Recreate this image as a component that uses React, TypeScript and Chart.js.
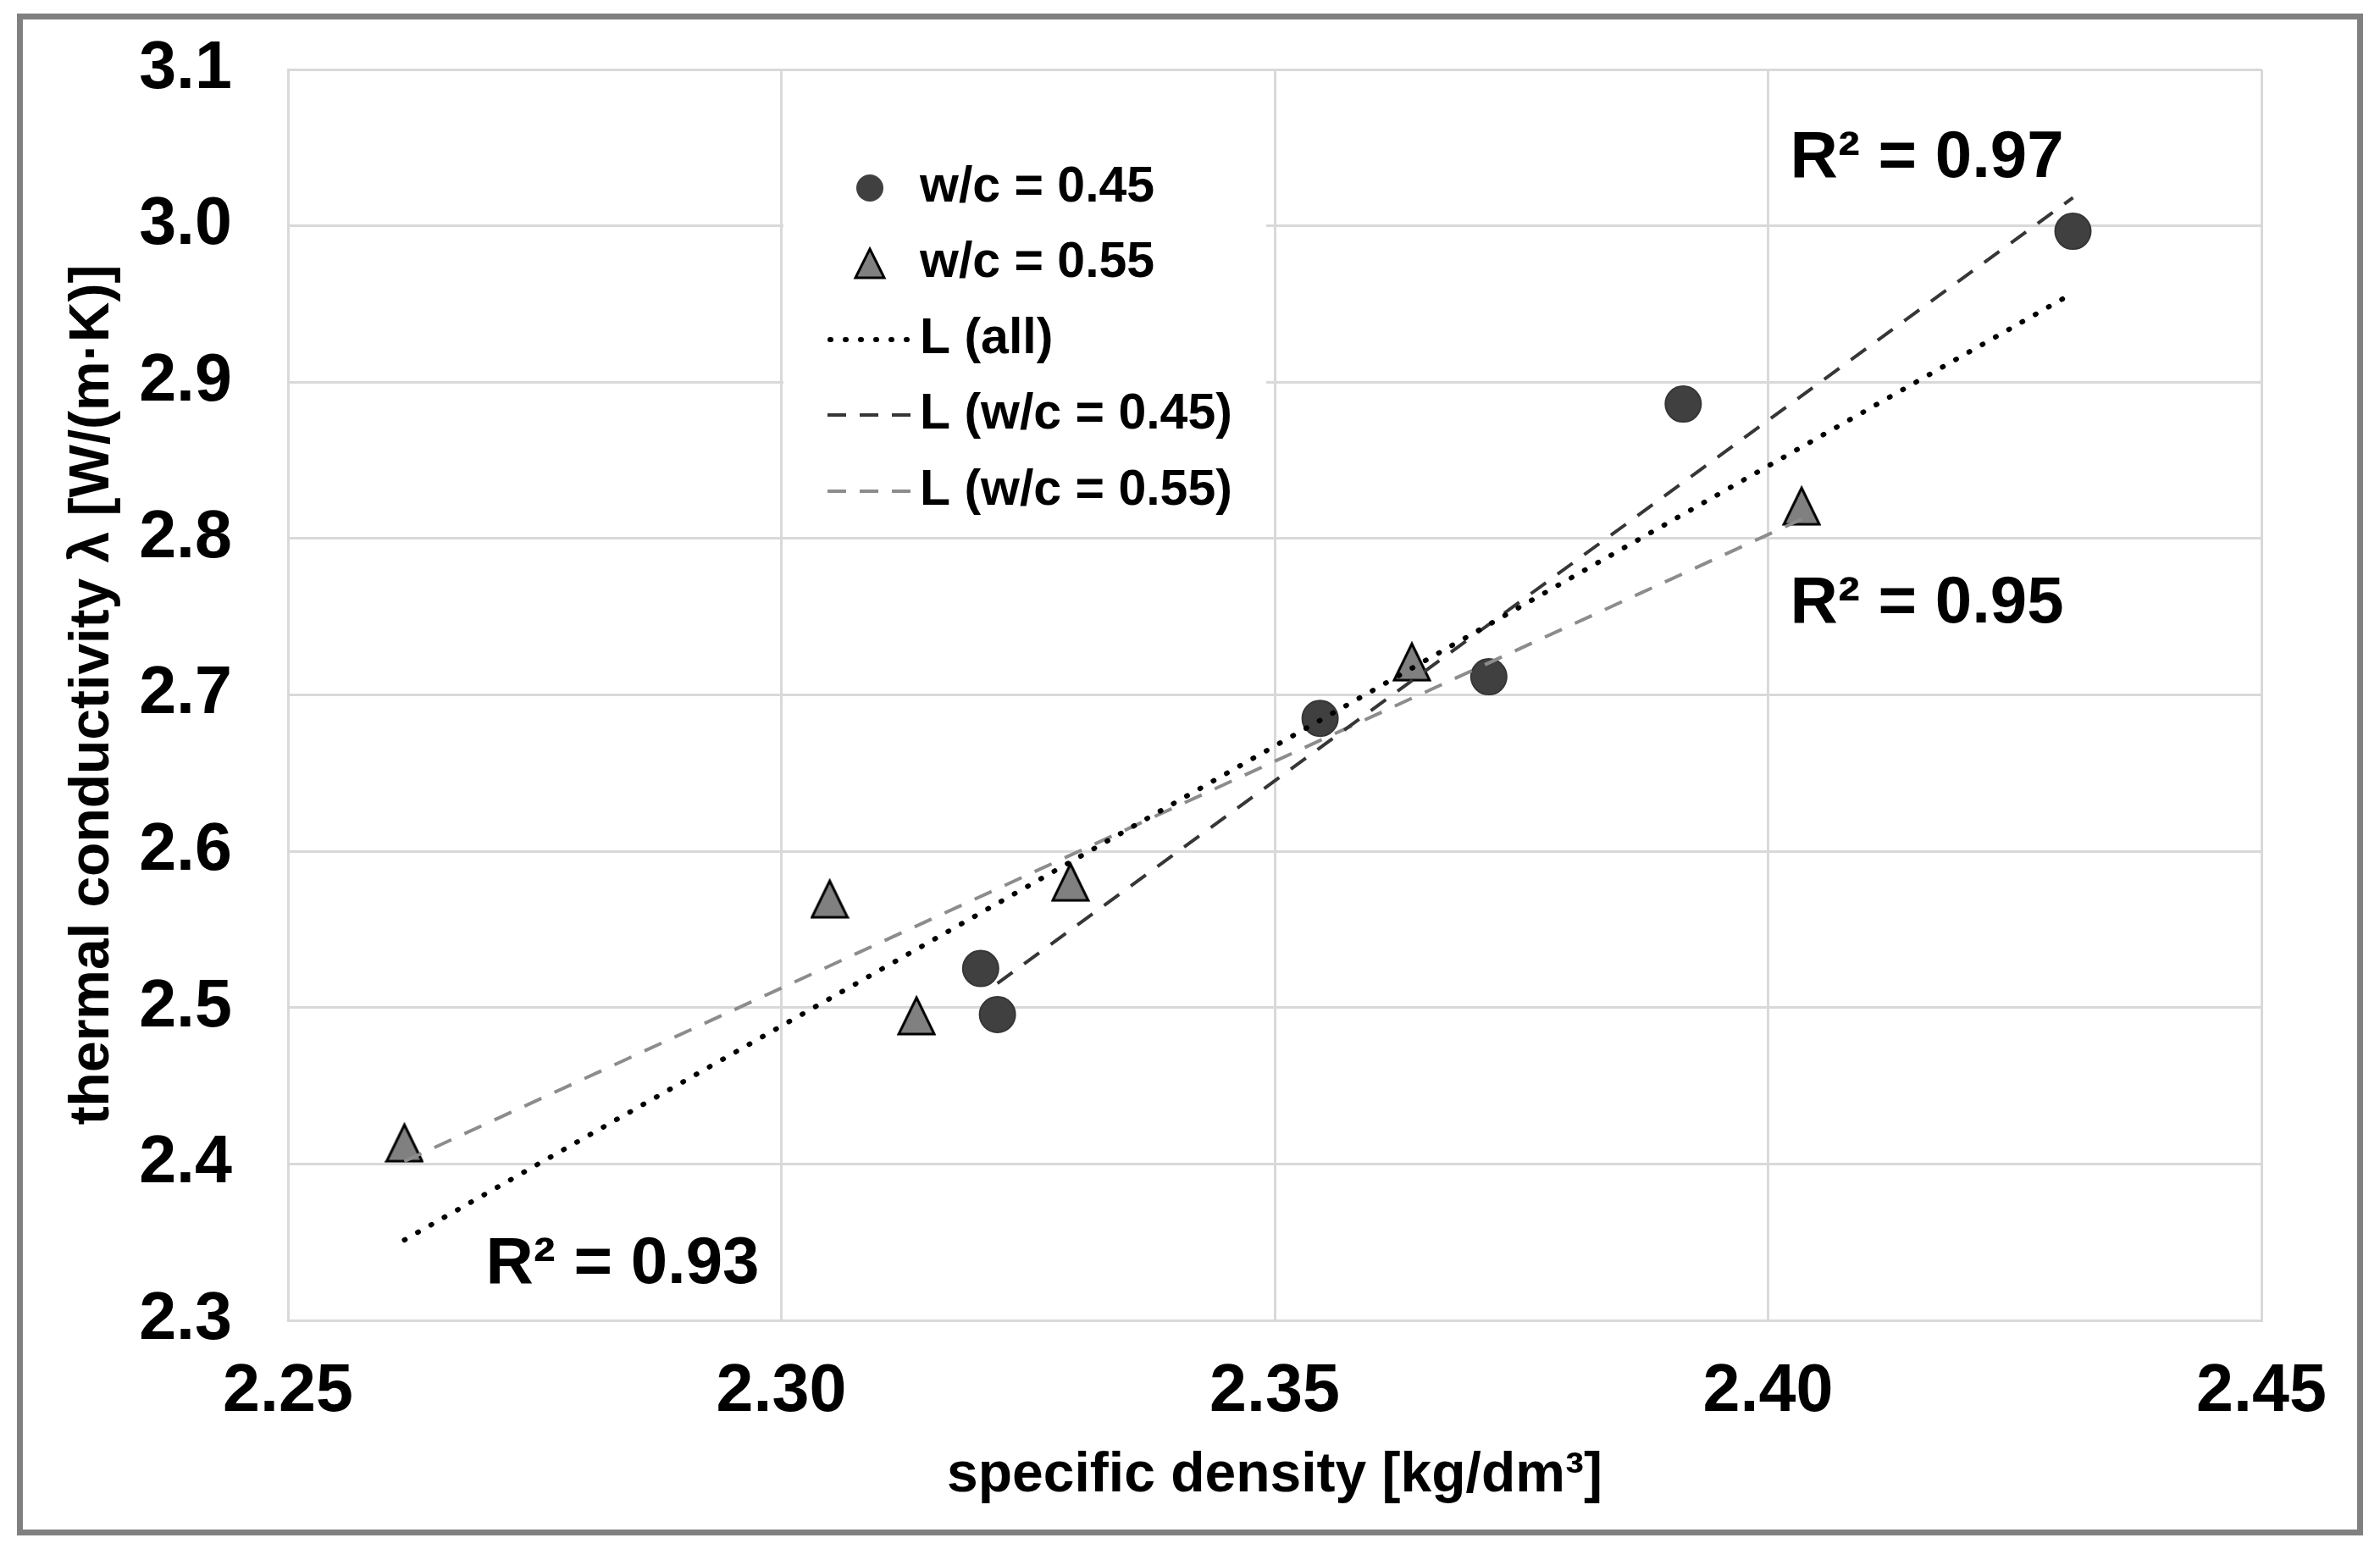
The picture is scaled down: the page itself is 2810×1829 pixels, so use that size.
import React, { useEffect, useRef } from 'react';
import { Chart, registerables } from 'chart.js';

Chart.register(...registerables);

// ---------- data ----------
const X_TICKS = [2.25, 2.3, 2.35, 2.4, 2.45];
const X_TICK_LABELS = ['2.25', '2.30', '2.35', '2.40', '2.45'];
const Y_TICKS = [2.3, 2.4, 2.5, 2.6, 2.7, 2.8, 2.9, 3.0, 3.1];
const Y_TICK_LABELS = ['2.3', '2.4', '2.5', '2.6', '2.7', '2.8', '2.9', '3.0', '3.1'];

const X_TITLE = 'specific density [kg/dm³]';
const Y_TITLE = 'thermal conductivity λ [W/(m·K)]';

const WC045_X = [2.3202, 2.3219, 2.3546, 2.3717, 2.3914, 2.4309];
const WC045_Y = [2.525, 2.4955, 2.685, 2.7116, 2.886, 2.9965];
const WC055_X = [2.2618, 2.3049, 2.3137, 2.3293, 2.3639, 2.4034];
const WC055_Y = [2.4137, 2.5697, 2.495, 2.5805, 2.7213, 2.821];

const TREND_ALL_X = [2.2618, 2.4309];
const TREND_ALL_Y = [2.3514, 2.957];
const TREND_045_X = [2.3219, 2.4309];
const TREND_045_Y = [2.5155, 3.018];
const TREND_055_X = [2.2618, 2.4034];
const TREND_055_Y = [2.4017, 2.8124];

const R2_LABELS = ['R² = 0.97', 'R² = 0.95', 'R² = 0.93'];
const R2_X = [2.4161, 2.4161, 2.2839];
const R2_Y = [3.0431, 2.7582, 2.3356];

const LEGEND_LABELS = ['w/c = 0.45', 'w/c = 0.55', 'L (all)', 'L (w/c = 0.45)', 'L (w/c = 0.55)'];

// ---------- styling ----------
const FONT = "'Liberation Sans', Arial, Helvetica, sans-serif";
const CIRCLE_FILL = '#404040';
const CIRCLE_BORDER = '#363636';
const TRI_FILL = '#808080';
const TRI_BORDER = '#000000';
const DARK_DASH = '#363636';
const LIGHT_DASH = '#8c8c8c';
const GRID = '#d9d9d9';

const pts = (xs: number[], ys: number[]) => xs.map((x, i) => ({ x, y: ys[i] }));

function makeTriangle(w: number, h: number, lw: number): HTMLCanvasElement {
  const c = document.createElement('canvas');
  c.width = w;
  c.height = h;
  const ctx = c.getContext('2d')!;
  const m = lw / 2 + 0.5;
  ctx.beginPath();
  ctx.moveTo(w / 2, m + 1);
  ctx.lineTo(w - m, h - m);
  ctx.lineTo(m, h - m);
  ctx.closePath();
  ctx.fillStyle = TRI_FILL;
  ctx.fill();
  ctx.lineWidth = lw;
  ctx.strokeStyle = TRI_BORDER;
  ctx.lineJoin = 'miter';
  ctx.stroke();
  return c;
}

function drawTriangle(ctx: CanvasRenderingContext2D, cx: number, cy: number, w: number, h: number, lw: number) {
  ctx.beginPath();
  ctx.moveTo(cx, cy - h / 2);
  ctx.lineTo(cx + w / 2, cy + h / 2);
  ctx.lineTo(cx - w / 2, cy + h / 2);
  ctx.closePath();
  ctx.fillStyle = TRI_FILL;
  ctx.fill();
  ctx.lineWidth = lw;
  ctx.strokeStyle = TRI_BORDER;
  ctx.stroke();
}

const customPlugin = {
  id: 'customDecor',
  beforeDraw(chart: any) {
    const { ctx, width, height } = chart;
    ctx.save();
    ctx.fillStyle = '#ffffff';
    ctx.fillRect(0, 0, width, height);
    ctx.restore();
  },
  beforeDatasetsDraw(chart: any) {
    const ctx: CanvasRenderingContext2D = chart.ctx;
    ctx.save();
    // legend box
    ctx.fillStyle = '#ffffff';
    ctx.fillRect(925, 168, 570, 458);
    const rows = [222, 311, 401, 490, 580];
    const markerX = 1027;
    const lineX0 = 977;
    const lineX1 = 1075;
    const textX = 1086;
    // circle
    ctx.beginPath();
    ctx.arc(markerX, rows[0], 16, 0, Math.PI * 2);
    ctx.fillStyle = CIRCLE_FILL;
    ctx.fill();
    // triangle
    drawTriangle(ctx, markerX, rows[1], 34, 34, 3);
    // dotted
    ctx.lineCap = 'round';
    ctx.lineWidth = 6;
    ctx.strokeStyle = '#000';
    ctx.setLineDash([1, 17]);
    ctx.beginPath();
    ctx.moveTo(lineX0 + 3, rows[2]);
    ctx.lineTo(lineX1, rows[2]);
    ctx.stroke();
    // dashed dark
    ctx.lineCap = 'butt';
    ctx.lineWidth = 4;
    ctx.setLineDash([22, 16]);
    ctx.strokeStyle = DARK_DASH;
    ctx.beginPath();
    ctx.moveTo(lineX0, rows[3]);
    ctx.lineTo(lineX1, rows[3]);
    ctx.stroke();
    ctx.strokeStyle = LIGHT_DASH;
    ctx.beginPath();
    ctx.moveTo(lineX0, rows[4]);
    ctx.lineTo(lineX1, rows[4]);
    ctx.stroke();
    ctx.setLineDash([]);
    // texts
    ctx.fillStyle = '#000';
    ctx.font = `bold 59px ${FONT}`;
    ctx.textAlign = 'left';
    ctx.textBaseline = 'middle';
    LEGEND_LABELS.forEach((t, i) => ctx.fillText(t, textX, rows[i]));
    ctx.restore();
  },
  afterDatasetsDraw(chart: any) {
    const ctx: CanvasRenderingContext2D = chart.ctx;
    const xs = chart.scales.x;
    const ys = chart.scales.y;
    ctx.save();
    ctx.fillStyle = '#000';
    ctx.font = `bold 78px ${FONT}`;
    ctx.textAlign = 'center';
    ctx.textBaseline = 'middle';
    R2_LABELS.forEach((t, i) => {
      ctx.fillText(t, xs.getPixelForValue(R2_X[i]), ys.getPixelForValue(R2_Y[i]));
    });
    ctx.restore();
  },
  afterDraw(chart: any) {
    const ctx: CanvasRenderingContext2D = chart.ctx;
    ctx.save();
    ctx.strokeStyle = '#808080';
    ctx.lineWidth = 7;
    ctx.strokeRect(23.5, 19.5, 2763, 1790);
    ctx.restore();
  },
};

export default function App() {
  const ref = useRef<HTMLCanvasElement>(null);
  useEffect(() => {
    document.body.style.margin = '0';
    document.documentElement.style.overflow = 'hidden';
    document.body.style.overflow = 'hidden';
    const tri = makeTriangle(46, 48, 3);
    const tickFont = { family: FONT, size: 79, weight: 'bold' as const };
    const titleFont = { family: FONT, size: 66, weight: 'bold' as const };
    const chart = new Chart(ref.current!, {
      type: 'scatter',
      data: {
        datasets: [
          {
            label: LEGEND_LABELS[2],
            data: pts(TREND_ALL_X, TREND_ALL_Y),
            showLine: true,
            borderColor: '#000000',
            borderWidth: 6,
            borderDash: [1, 17],
            borderCapStyle: 'round',
            pointRadius: 0,
            order: 1,
          },
          {
            label: LEGEND_LABELS[3],
            data: pts(TREND_045_X, TREND_045_Y),
            showLine: true,
            borderColor: DARK_DASH,
            borderWidth: 4,
            borderDash: [22, 17],
            pointRadius: 0,
            order: 1,
          },
          {
            label: LEGEND_LABELS[4],
            data: pts(TREND_055_X, TREND_055_Y),
            showLine: true,
            borderColor: LIGHT_DASH,
            borderWidth: 4,
            borderDash: [22, 17],
            pointRadius: 0,
            order: 1,
          },
          {
            label: LEGEND_LABELS[0],
            data: pts(WC045_X, WC045_Y),
            pointStyle: 'circle',
            pointRadius: 21,
            pointBackgroundColor: CIRCLE_FILL,
            pointBorderColor: CIRCLE_BORDER,
            pointBorderWidth: 2,
            showLine: false,
            order: 2,
          },
          {
            label: LEGEND_LABELS[1],
            data: pts(WC055_X, WC055_Y),
            pointStyle: tri as any,
            pointRadius: 24,
            showLine: false,
            order: 2,
          },
        ] as any,
      },
      options: {
        responsive: false,
        animation: false,
        events: [],
        layout: { autoPadding: false, padding: { top: 82, right: 140, bottom: 0, left: 0 } },
        plugins: {
          legend: { display: false },
          tooltip: { enabled: false },
        },
        scales: {
          x: {
            type: 'linear',
            min: 2.25,
            max: 2.45,
            afterBuildTicks: (s: any) => {
              s.ticks = X_TICKS.map((v) => ({ value: v }));
            },
            afterFit: (s: any) => {
              s.height = 270;
              s.paddingLeft = 0;
              s.paddingRight = 0;
            },
            ticks: {
              autoSkip: false,
              maxRotation: 0,
              padding: 38,
              color: '#000',
              font: tickFont,
              callback: (v: any) => {
                const i = X_TICKS.findIndex((t) => Math.abs(t - Number(v)) < 1e-9);
                return i >= 0 ? X_TICK_LABELS[i] : '';
              },
            },
            grid: { color: GRID, lineWidth: 3, drawTicks: false },
            border: { color: GRID, width: 3 },
            title: {
              display: true,
              text: X_TITLE,
              color: '#000',
              font: titleFont,
              padding: { top: 0, bottom: 47 },
            },
          },
          y: {
            type: 'linear',
            min: 2.3,
            max: 3.1,
            afterBuildTicks: (s: any) => {
              s.ticks = Y_TICKS.map((v) => ({ value: v }));
            },
            afterFit: (s: any) => {
              s.width = 340;
              s.paddingTop = 0;
              s.paddingBottom = 0;
            },
            ticks: {
              autoSkip: false,
              padding: 66,
              color: '#000',
              font: tickFont,
              callback: (v: any) => {
                const i = Y_TICKS.findIndex((t) => Math.abs(t - Number(v)) < 1e-9);
                return i >= 0 ? Y_TICK_LABELS[i] : '';
              },
            },
            grid: { color: GRID, lineWidth: 3, drawTicks: false },
            border: { color: GRID, width: 3 },
            title: {
              display: true,
              text: Y_TITLE,
              color: '#000',
              font: titleFont,
              padding: { top: 70, bottom: 0 },
            },
          },
        },
      } as any,
      plugins: [customPlugin],
    });
    return () => chart.destroy();
  }, []);
  return (
    <div style={{ width: 2810, height: 1829, position: 'relative', background: '#fff' }}>
      <canvas ref={ref} width={2810} height={1829} style={{ display: 'block' }} />
    </div>
  );
}
